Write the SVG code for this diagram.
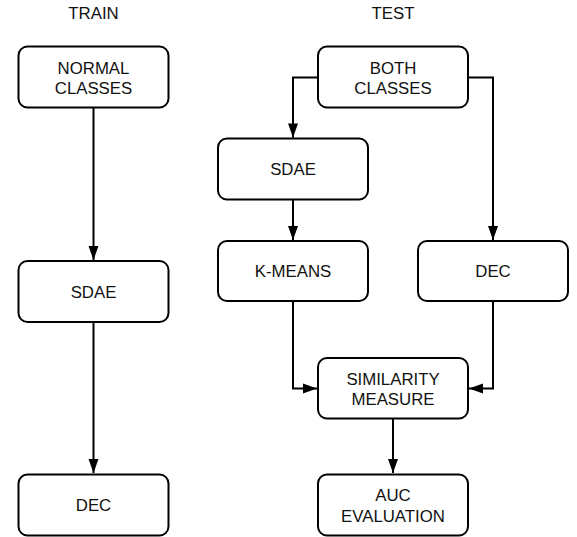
<svg xmlns="http://www.w3.org/2000/svg" width="577" height="537" viewBox="0 0 577 537">
<defs>
<marker id="arr" markerUnits="userSpaceOnUse" markerWidth="16" markerHeight="12" viewBox="0 0 16 12" refX="15" refY="6" orient="auto">
<path d="M1,1 L15,6 L1,11 Z" fill="#000"/>
</marker>
</defs>
<style>
.box{fill:#fff;stroke:#000;stroke-width:2}
.lbl{font-family:"Liberation Sans",Arial,sans-serif;font-size:16.8px;fill:#111;text-anchor:middle}
.edge{fill:none;stroke:#000;stroke-width:2;marker-end:url(#arr)}
</style>
<rect width="577" height="537" fill="#fff"/>
<text class="lbl" x="93.5" y="18.5">TRAIN</text>
<text class="lbl" x="393" y="18.5">TEST</text>
<g id="connectors">
<path class="edge" d="M93.5,108 L93.5,260"/>
<path class="edge" d="M93.5,322 L93.5,473"/>
<path class="edge" d="M318,77.5 L293,77.5 L293,137.5"/>
<path class="edge" d="M468,77.5 L493,77.5 L493,240"/>
<path class="edge" d="M293,199.5 L293,240"/>
<path class="edge" d="M293,300.5 L293,388.5 L317,388.5"/>
<path class="edge" d="M493,300.5 L493,388.5 L469,388.5"/>
<path class="edge" d="M393,418.5 L393,473"/>
</g>
<g id="normal-classes"><rect class="box" x="18.5" y="46.5" width="150" height="61" rx="9"/><text class="lbl" x="93.5" y="73.5">NORMAL</text><text class="lbl" x="93.5" y="94">CLASSES</text></g>
<g id="sdae-train"><rect class="box" x="18.5" y="261" width="150" height="61" rx="9"/><text class="lbl" x="93.5" y="297.5">SDAE</text></g>
<g id="dec-train"><rect class="box" x="18.5" y="474.5" width="150" height="61" rx="9"/><text class="lbl" x="93.5" y="511">DEC</text></g>
<g id="both-classes"><rect class="box" x="318" y="46.5" width="150" height="61" rx="9"/><text class="lbl" x="393" y="73.5">BOTH</text><text class="lbl" x="393" y="94">CLASSES</text></g>
<g id="sdae-test"><rect class="box" x="218" y="138.5" width="150" height="61" rx="9"/><text class="lbl" x="293" y="175">SDAE</text></g>
<g id="kmeans"><rect class="box" x="218" y="241" width="150" height="60" rx="9"/><text class="lbl" x="293" y="277">K-MEANS</text></g>
<g id="dec-test"><rect class="box" x="418" y="241" width="150" height="60" rx="9"/><text class="lbl" x="493" y="277">DEC</text></g>
<g id="similarity"><rect class="box" x="318" y="358" width="150" height="60.5" rx="9"/><text class="lbl" x="393" y="384.5">SIMILARITY</text><text class="lbl" x="393" y="404.5">MEASURE</text></g>
<g id="auc"><rect class="box" x="318" y="474.5" width="150" height="61" rx="9"/><text class="lbl" x="393" y="501">AUC</text><text class="lbl" x="393" y="521.5">EVALUATION</text></g>
</svg>
